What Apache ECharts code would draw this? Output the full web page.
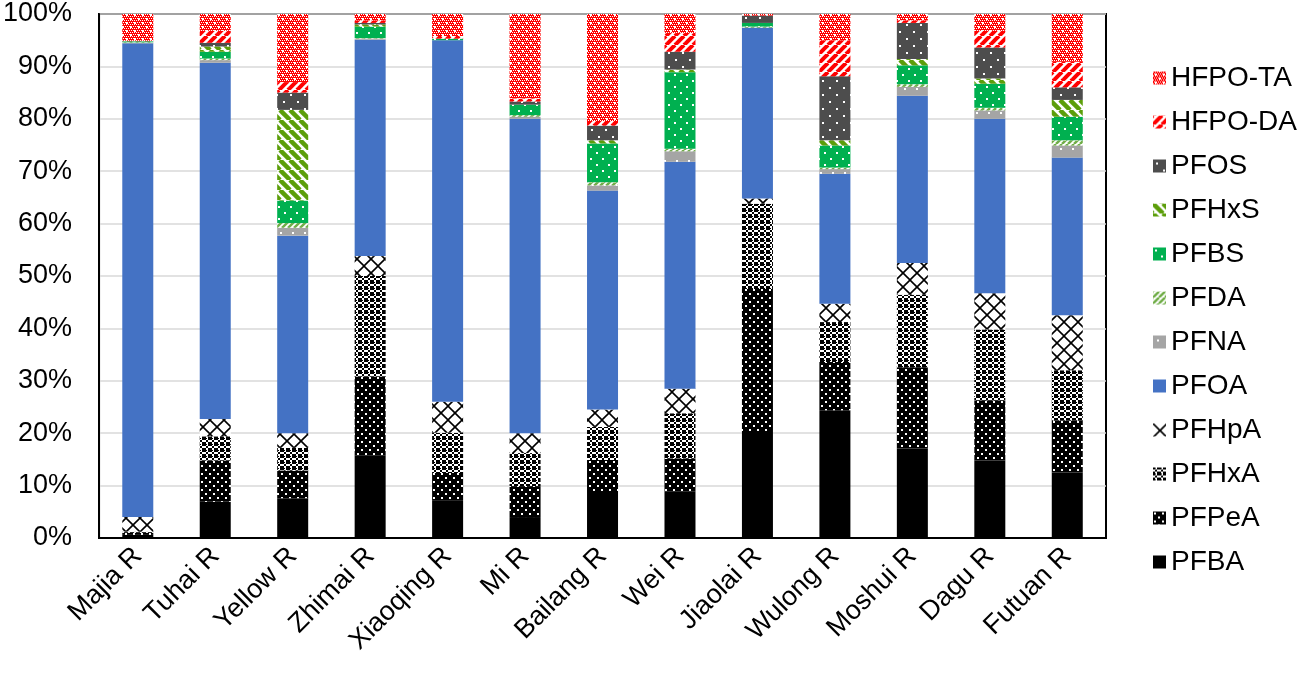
<!DOCTYPE html>
<html>
<head>
<meta charset="utf-8">
<script src="https://cdn.jsdelivr.net/npm/echarts@6/dist/echarts.min.js"></script>
<style>
html,body{margin:0;padding:0;background:#fff;}
#chart{width:1301px;height:674px;}
</style>
</head>
<body>
<div id="chart"></div>
<script>
var categories = ['Majia R','Tuhai R','Yellow R','Zhimai R','Xiaoqing R','Mi R','Bailang R','Wei R','Jiaolai R','Wulong R','Moshui R','Dagu R','Futuan R'];
var yTicks = [0,10,20,30,40,50,60,70,80,90,100];

var PFBA   = [0.6, 6.9, 7.6, 15.8, 7.1, 4.0, 8.6, 8.9, 20.4, 24.4, 17.1, 14.8, 12.5];
var PFPeA  = [0.4, 7.9, 5.3, 15.0, 5.3, 5.9, 6.3, 6.3, 27.1, 9.2, 15.5, 11.5, 9.9];
var PFHxA  = [0.2, 4.6, 4.3, 19.2, 7.7, 6.3, 6.3, 8.6, 16.3, 7.6, 13.8, 13.5, 9.6];
var PFHpA  = [2.8, 3.3, 2.8, 3.8, 5.9, 3.8, 3.3, 4.7, 1.0, 3.5, 6.1, 6.9, 10.5];
var PFOA   = [90.4, 68.0, 37.7, 41.3, 69.0, 60.0, 41.8, 43.3, 32.6, 24.8, 31.9, 33.3, 30.1];
var PFNA   = [0.1, 0.5, 1.5, 0.2, 0, 0.4, 1.0, 2.0, 0, 0.9, 1.7, 1.6, 2.3];
var PFDA   = [0.1, 0.3, 0.9, 0.1, 0, 0.3, 0.6, 0.5, 0.2, 0.3, 0.5, 0.5, 1.0];
var PFBS   = [0.2, 1.3, 4.3, 2.2, 0.3, 2.0, 7.4, 14.6, 0.7, 4.2, 3.6, 4.6, 4.5];
var PFHxS  = [0, 1.0, 17.3, 0.4, 0, 0, 0.6, 0.5, 0, 1.0, 1.2, 1.0, 3.2];
var PFOS   = [0, 0.7, 3.3, 0.3, 0, 0.6, 2.8, 3.4, 1.4, 12.2, 6.9, 5.9, 2.4];
var HFPO_DA = [0.1, 2.3, 2.0, 0.5, 0.5, 0.6, 0.9, 3.6, 0, 6.9, 0.5, 3.2, 4.9];
var HFPO_TA = [5.1, 3.2, 13.0, 1.2, 4.2, 16.1, 20.4, 3.6, 0.3, 5.0, 1.2, 3.2, 9.1];

var seriesNames = ['PFBA','PFPeA','PFHxA','PFHpA','PFOA','PFNA','PFDA','PFBS','PFHxS','PFOS','HFPO-DA','HFPO-TA'];
var seriesValues = [PFBA,PFPeA,PFHxA,PFHpA,PFOA,PFNA,PFDA,PFBS,PFHxS,PFOS,HFPO_DA,HFPO_TA];

// ---- pattern helpers ----
function tile(size, draw) {
  var c = document.createElement('canvas');
  c.width = size; c.height = size;
  var ctx = c.getContext('2d');
  draw(ctx, size);
  return {image: c, repeat: 'repeat'};
}
function dots(bg, fg, size, r, pts) {
  return tile(size, function (ctx, s) {
    ctx.fillStyle = bg; ctx.fillRect(0, 0, s, s);
    ctx.fillStyle = fg;
    pts.forEach(function (p) { ctx.fillRect(p[0], p[1], r, r); });
  });
}
function stripes(bg, fg, size, w, dir) {
  return tile(size, function (ctx, s) {
    ctx.fillStyle = bg; ctx.fillRect(0, 0, s, s);
    ctx.strokeStyle = fg; ctx.lineWidth = w;
    for (var k = -s; k <= s; k += s) {
      ctx.beginPath();
      if (dir === '/') { ctx.moveTo(k, s); ctx.lineTo(k + s, 0); }
      else { ctx.moveTo(k, 0); ctx.lineTo(k + s, s); }
      ctx.stroke();
    }
  });
}
var patterns = {
  'PFBA': '#000000',
  'PFPeA': dots('#000000', '#ffffff', 8, 2, [[1,1],[5,5]]),
  'PFHxA': tile(6, function (ctx, s) {
    ctx.fillStyle = '#ffffff'; ctx.fillRect(0,0,s,s);
    ctx.fillStyle = '#000000';
    ctx.fillRect(0,0,2,2); ctx.fillRect(2,2,2,2); ctx.fillRect(4,0,2,2);
    ctx.fillRect(0,4,2,2); ctx.fillRect(4,4,2,2);
    ctx.fillRect(2,0,1,1);
  }),
  'PFHpA': tile(14, function (ctx, s) {
    ctx.fillStyle = '#ffffff'; ctx.fillRect(0,0,s,s);
    ctx.strokeStyle = '#000000'; ctx.lineWidth = 1.6;
    ctx.beginPath(); ctx.moveTo(0,0); ctx.lineTo(s,s); ctx.stroke();
    ctx.beginPath(); ctx.moveTo(s,0); ctx.lineTo(0,s); ctx.stroke();
  }),
  'PFOA': '#4472C4',
  'PFNA': dots('#A5A5A5', '#ffffff', 12, 2, [[4,4]]),
  'PFDA': stripes('#ffffff', '#70AD47', 6, 2.5, '/'),
  'PFBS': dots('#00B050', '#ffffff', 12, 2, [[2,2],[8,8]]),
  'PFHxS': stripes('#ffffff', '#5C9E0A', 10, 4.5, '\\'),
  'PFOS': dots('#4D4D4D', '#ffffff', 14, 2, [[3,3],[10,10]]),
  'HFPO-DA': stripes('#ffffff', '#FF0000', 9, 4, '/'),
  'HFPO-TA': tile(8, function (ctx, s) {
    ctx.fillStyle = '#FF0000'; ctx.fillRect(0,0,s,s);
    ctx.fillStyle = '#ffffff';
    for (var y = 0; y < s; y += 2) for (var x = (y/2)%2; x < s; x += 2) ctx.fillRect(x, y, 1, 1);
    ctx.fillRect(2,2,2,2); ctx.fillRect(6,6,2,2);
  })
};

var series = seriesNames.map(function (name, i) {
  return {
    name: name,
    type: 'bar',
    stack: 'total',
    barWidth: 31,
    data: seriesValues[i],
    itemStyle: {color: patterns[name]},
    emphasis: {disabled: true}
  };
});

var chart = echarts.init(document.getElementById('chart'), null, {renderer: 'canvas'});
chart.setOption({
  animation: false,
  backgroundColor: '#ffffff',
  textStyle: {fontFamily: 'Liberation Sans, Arial, sans-serif'},
  grid: {left: 97, top: 14, right: 195, bottom: 136, show: true, borderColor: '#000000', borderWidth: 2, backgroundColor: 'transparent'},
  legend: {
    orient: 'vertical',
    left: 1148,
    top: 59,
    itemWidth: 13,
    itemHeight: 13,
    itemGap: 16,
    icon: 'rect',
    data: seriesNames.slice().reverse(),
    textStyle: {fontSize: 28, color: '#000000', fontFamily: 'Liberation Sans, Arial, sans-serif', padding: [0,0,0,0]}
  },
  xAxis: {
    type: 'category',
    data: categories,
    axisLine: {show: true, lineStyle: {color: '#000000', width: 2}},
    axisTick: {show: false},
    axisLabel: {rotate: 45, fontSize: 27, color: '#000000', margin: 14, interval: 0}
  },
  yAxis: {
    type: 'value',
    min: yTicks[0],
    max: yTicks[yTicks.length - 1],
    interval: 10,
    axisLine: {show: true, lineStyle: {color: '#000000', width: 2}},
    axisTick: {show: false},
    splitLine: {show: true, lineStyle: {color: '#D9D9D9', width: 1.5}},
    axisLabel: {fontSize: 27, color: '#000000', margin: 27, formatter: '{value}%'}
  },
  series: series
});
</script>
</body>
</html>
